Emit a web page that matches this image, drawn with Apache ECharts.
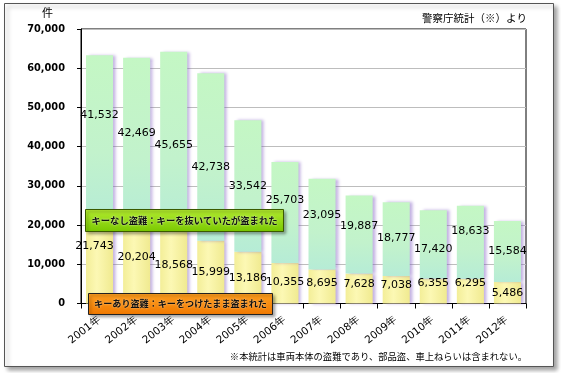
<!DOCTYPE html>
<html><head><meta charset="utf-8">
<script src="https://cdn.jsdelivr.net/npm/echarts@6/dist/echarts.min.js"></script>
<style>html,body{margin:0;padding:0;background:#fff}#c{width:561px;height:373px}</style>
</head><body><div id="c"></div>
<script>
var categories = ['2001年','2002年','2003年','2004年','2005年','2006年','2007年','2008年','2009年','2010年','2011年','2012年'];
var keyOn = [21743,20204,18568,15999,13186,10355,8695,7628,7038,6355,6295,5486];
var keyOff = [41532,42469,45655,42738,33542,25703,23095,19887,18777,17420,18633,15584];
var totals = [63275,62673,64223,58737,46728,36058,31790,27515,25815,23775,24928,21070];
var yTicks = [0,10000,20000,30000,40000,50000,60000,70000];

// label nudges (pixels) to mimic the hand-placed labels of the original
var nudgeOff = [[0,-22],[0,-8],[0,4],[0,10],[0,0],[0,-12],[0,-9],[0,-8],[0,-1],[0,5],[0,-11],[0,0]];
var nudgeOn = [[-5,-15],[0,-7],[0,-2],[0,0],[0,0],[0,-1],[0,-3],[0,-4],[0,-5],[0,-8],[0,-8],[0,0]];

var NUMF = 'DejaVu Sans, Verdana, sans-serif';
var JPF = '"Noto Sans CJK JP", sans-serif';
function fmt(v){return v.toString().replace(/\B(?=(\d{3})+(?!\d))/g, ',');}
function withNudge(vals, nudges){
  return vals.map(function(v,i){return {value:v,label:{offset:nudges[i]}};});
}

var chart = echarts.init(document.getElementById('c'));
var shadow = {shadowColor:'rgba(120,80,190,0.45)', shadowBlur:3, shadowOffsetX:3, shadowOffsetY:0};
chart.setOption({
  animation:false,
  backgroundColor:'transparent',
  grid:{left:81,right:35,top:29,bottom:69.5,show:true,borderColor:'#000',borderWidth:1,backgroundColor:'transparent'},
  xAxis:{type:'category',data:categories,
    axisLine:{lineStyle:{color:'#000'}},
    axisTick:{show:true,length:5,lineStyle:{color:'#000'}},
    axisLabel:{rotate:38,fontSize:10.5,color:'#000',fontFamily:NUMF,margin:15}},
  yAxis:{type:'value',min:0,max:70000,interval:10000,
    axisLine:{show:true,lineStyle:{color:'#000'}},
    axisTick:{show:true,length:4,lineStyle:{color:'#000'}},
    splitLine:{lineStyle:{color:'#bdbdbd'}},
    axisLabel:{fontSize:9.8,fontWeight:'bold',color:'#000',fontFamily:NUMF,margin:16,
      formatter:function(v){return yTicks.indexOf(v)>=0?fmt(v):'';}}},
  series:[
    {name:'キーあり盗難',type:'bar',stack:'s',barWidth:'73%',data:withNudge(keyOn,nudgeOn),z:3,
      itemStyle:Object.assign({color:new echarts.graphic.LinearGradient(0,0,1,0,[
        {offset:0,color:'#f3ee98'},{offset:0.4,color:'#fcf8b4'},{offset:1,color:'#f0ea90'}])},shadow),
      label:{show:true,position:'inside',color:'#000',fontSize:11,fontFamily:NUMF,
        formatter:function(p){return fmt(p.value);}}},
    {name:'キーなし盗難',type:'bar',stack:'s',barWidth:'73%',data:withNudge(keyOff,nudgeOff),z:3,
      itemStyle:Object.assign({color:new echarts.graphic.LinearGradient(0,0,0,1,[
        {offset:0,color:'#c4f7c4'},{offset:0.6,color:'#c2f2cc'},{offset:1,color:'#b6ecd6'}])},shadow),
      label:{show:true,position:'inside',color:'#000',fontSize:11,fontFamily:NUMF,
        formatter:function(p){return fmt(p.value);}}},
    {name:'合計',type:'line',data:totals,symbol:'none',lineStyle:{opacity:0},z:5,
      label:{show:true,position:'top',distance:4,color:'#000',fontSize:12,fontWeight:'bold',fontFamily:NUMF,
        formatter:function(p){return fmt(p.value)+'件';}}}
  ],
  graphic:[
    {type:'rect',z:-10,shape:{x:4.5,y:3.5,width:549,height:363},
      style:{fill:'#fff',stroke:'#555',lineWidth:1,shadowColor:'rgba(0,0,0,0.35)',shadowBlur:4,shadowOffsetX:3,shadowOffsetY:3}},
    {type:'text',z:10,left:42,top:7,style:{text:'件',font:'11px '+JPF,fill:'#000'}},
    {type:'text',z:10,right:34,top:13,style:{text:'警察庁統計（※）より',font:'10.5px '+JPF,fill:'#000'}},
    {type:'text',z:10,right:34,top:352,style:{text:'※本統計は車両本体の盗難であり、部品盗、車上ねらいは含まれない。',font:'9.3px '+JPF,fill:'#000'}},
    {type:'rect',z:100,shape:{x:85.5,y:209.5,width:198,height:22},
      style:{fill:new echarts.graphic.LinearGradient(0,0,0,1,[{offset:0,color:'#b4ec30'},{offset:1,color:'#78c800'}]),
        stroke:'#3a5a00',lineWidth:1,shadowColor:'rgba(0,0,0,0.35)',shadowBlur:3,shadowOffsetX:2,shadowOffsetY:2}},
    {type:'text',z:101,style:{x:184.5,y:220.5,text:'キーなし盗難：キーを抜いていたが盗まれた',align:'center',verticalAlign:'middle',
      font:'bold 9.3px '+JPF,fill:'#111',textShadowColor:'rgba(255,255,255,0.8)',textShadowBlur:2}},
    {type:'rect',z:100,shape:{x:88.5,y:293.5,width:184,height:21},
      style:{fill:new echarts.graphic.LinearGradient(0,0,0,1,[{offset:0,color:'#ffa020'},{offset:1,color:'#f07800'}]),
        stroke:'#222',lineWidth:1,shadowColor:'rgba(0,0,0,0.35)',shadowBlur:3,shadowOffsetX:2,shadowOffsetY:2}},
    {type:'text',z:101,style:{x:180.5,y:304,text:'キーあり盗難：キーをつけたまま盗まれた',align:'center',verticalAlign:'middle',
      font:'bold 9.1px '+JPF,fill:'#111',textShadowColor:'rgba(255,255,255,0.6)',textShadowBlur:2}}
  ]
});
</script></body></html>
